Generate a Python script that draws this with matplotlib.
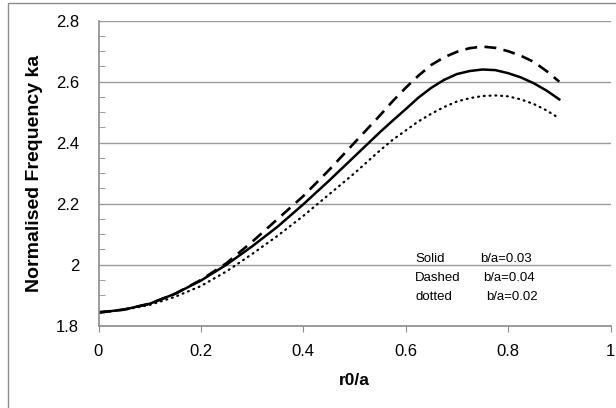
import matplotlib
matplotlib.use("Agg")
import matplotlib.pyplot as plt
from matplotlib.patches import Rectangle

plt.rcParams['font.family'] = ['Liberation Sans', 'DejaVu Sans']

r0_a = [0.0, 0.05, 0.1, 0.15, 0.2, 0.25, 0.3, 0.35, 0.4, 0.45, 0.5,
        0.55, 0.575, 0.6, 0.625, 0.65, 0.675, 0.7, 0.725, 0.75,
        0.775, 0.8, 0.825, 0.85, 0.875, 0.9]
ka_solid = [1.843, 1.853, 1.872, 1.905, 1.948, 2.000, 2.060, 2.125, 2.198, 2.275, 2.355,
            2.435, 2.473, 2.510, 2.548, 2.580, 2.606, 2.625, 2.635, 2.640,
            2.638, 2.628, 2.614, 2.595, 2.571, 2.542]
ka_dashed = [1.843, 1.853, 1.872, 1.905, 1.950, 2.005, 2.075, 2.150, 2.225, 2.310, 2.400,
             2.490, 2.537, 2.580, 2.620, 2.655, 2.680, 2.698, 2.710, 2.715,
             2.711, 2.700, 2.685, 2.665, 2.635, 2.600]
ka_dotted = [1.843, 1.852, 1.868, 1.895, 1.930, 1.978, 2.035, 2.095, 2.160, 2.230, 2.300,
             2.375, 2.410, 2.440, 2.470, 2.495, 2.517, 2.535, 2.546, 2.553,
             2.555, 2.552, 2.542, 2.527, 2.506, 2.480]
notes = ["Solid", "Dashed", "dotted"]
ratios = ["b/a=0.03", "b/a=0.04", "b/a=0.02"]

fig = plt.figure(figsize=(6.16, 4.08), dpi=100)
ax = fig.add_axes([98.5 / 616, 1 - 325.7 / 408, 512 / 616, 305 / 408])

# outer chart frame (only left and top edges are in view)
fig.patches.append(Rectangle((8 / 616, -0.1), 1.2, 1 - 3.3 / 408 + 0.1,
                             transform=fig.transFigure, fill=False,
                             edgecolor='#8c8c8c', linewidth=1.0))

ax.plot(r0_a, ka_dashed, color='black', lw=1.9, linestyle=(0, (4.5, 2.8)))
ax.plot(r0_a, ka_solid, color='black', lw=1.8)
ax.plot(r0_a, ka_dotted, color='black', lw=1.6, linestyle=(0, (0.4, 2.2)),
        dash_capstyle='round')

ax.set_xlim(0, 1)
ax.set_ylim(1.8, 2.8)
ax.set_xticks([0, 0.2, 0.4, 0.6, 0.8, 1])
ax.set_xticklabels(['0', '0.2', '0.4', '0.6', '0.8', '1'])
ax.set_yticks([1.8, 2.0, 2.2, 2.4, 2.6, 2.8])
ax.set_yticklabels(['1.8', '2', '2.2', '2.4', '2.6', '2.8'])
ax.set_yticks([1.85, 1.9, 1.95, 2.05, 2.1, 2.15, 2.25, 2.3, 2.35,
               2.45, 2.5, 2.55, 2.65, 2.7, 2.75], minor=True)
ax.grid(axis='y', which='major', color='#9a9a9a', linewidth=1.0)
ax.tick_params(axis='x', direction='out', length=4, color='#8c8c8c',
               labelsize=12, pad=9)
ax.tick_params(axis='y', which='major', length=0, labelsize=12, pad=14)
ax.tick_params(axis='y', which='minor', direction='in', length=4,
               color='#8c8c8c')
for s in ['top', 'right']:
    ax.spines[s].set_visible(False)
for s in ['left', 'bottom']:
    ax.spines[s].set_color('#8c8c8c')
    ax.spines[s].set_linewidth(1.2)

ax.set_xlabel('r0/a', fontsize=12.5, fontweight='bold', labelpad=10)
ax.set_ylabel('Normalised Frequency ka', fontsize=14, fontweight='bold',
              labelpad=9)

for i in range(3):
    y = 1 - (259 + 19 * i) / 408
    fig.text(415 / 616, y, notes[i], fontsize=9.5, va='center')
    fig.text((480 + 3 * i) / 616, y, ratios[i], fontsize=9.5, va='center')

fig.savefig('out.png', dpi=100)
